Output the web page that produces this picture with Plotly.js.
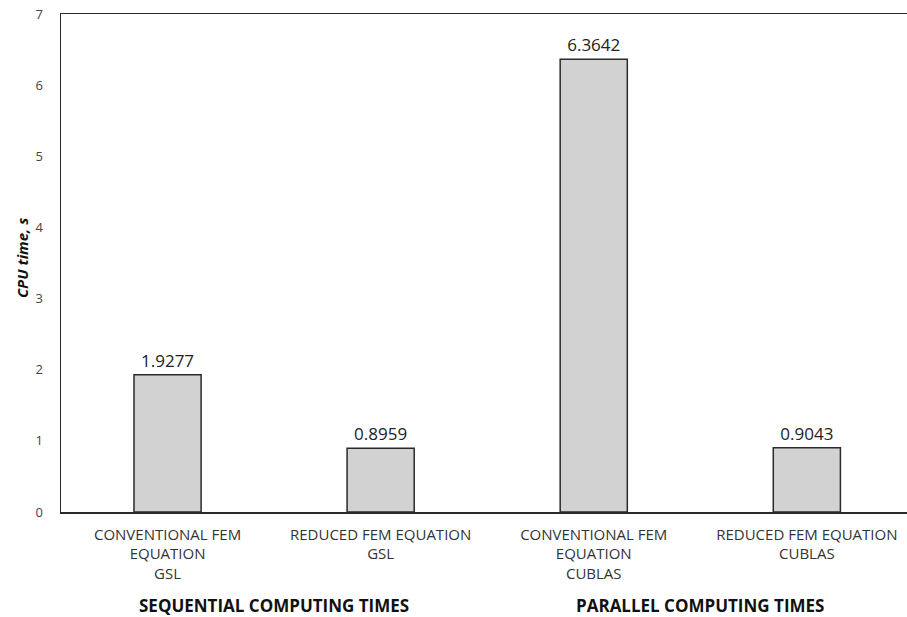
<!DOCTYPE html>
<html>
<head>
<meta charset="utf-8">
<script src="https://cdn.plot.ly/plotly-3.0.1.min.js"></script>
<style>html,body{margin:0;padding:0;background:#fff;}#chart{width:907px;height:617px;}</style>
</head>
<body>
<div id="chart"></div>
<script>
const categories = ["CONVENTIONAL FEM<br>EQUATION<br>GSL", "REDUCED FEM EQUATION<br>GSL", "CONVENTIONAL FEM<br>EQUATION<br>CUBLAS", "REDUCED FEM EQUATION<br>CUBLAS"];
const cpuTimes = [1.9277, 0.8959, 6.3642, 0.9043];
const valueLabels = ["1.9277", "0.8959", "6.3642", "0.9043"];
const groupLabels = ["SEQUENTIAL COMPUTING TIMES", "PARALLEL COMPUTING TIMES"];
const groupCenters = [0.5, 2.5];
const yTicks = [0, 1, 2, 3, 4, 5, 6, 7];

const idx = categories.map((_, i) => i);
const font = "Open Sans, Noto Sans, sans-serif";

const trace = {
  type: "bar",
  x: idx,
  y: cpuTimes,
  text: valueLabels,
  texttemplate: "%{text}",
  textposition: "outside",
  cliponaxis: false,
  textfont: {family: font, size: 17, color: "#222"},
  width: 0.315,
  marker: {color: "#d2d2d2", line: {color: "#2a2a2a", width: 1.5}},
  hoverinfo: "skip"
};

const annotations = groupLabels.map((t, i) => ({
  text: "<b>" + t + "</b>", x: groupCenters[i], xref: "x",
  y: (512 - 605) / 498, yref: "paper", yanchor: "middle",
  showarrow: false, font: {family: font, size: 17, color: "#111"}
}));
annotations.push({
  text: "<b><i>CPU time, s</i></b>", textangle: -90, xref: "paper", x: -0.046, xanchor: "center",
  yref: "paper", y: (512 - 258) / 498, yanchor: "middle", showarrow: false,
  font: {family: font, size: 15, color: "#111"}
});

const layout = {
  width: 907, height: 617,
  margin: {l: 61, r: 0, t: 14, b: 105},
  paper_bgcolor: "#fff", plot_bgcolor: "#fff",
  showlegend: false,
  xaxis: {
    range: [-0.5, 3.47],
    tickvals: idx, ticktext: categories,
    tickfont: {family: font, size: 15, color: "#333"},
    ticks: "", showgrid: false, zeroline: false,
    showline: true, mirror: true, linecolor: "#2a2a2a", linewidth: 1.5,
    ticklabelstandoff: 8
  },
  yaxis: {
    range: [0, 7], tickvals: yTicks,
    tickfont: {family: font, size: 13, color: "#444"},
    ticks: "", showgrid: false, zeroline: false,
    showline: true, linecolor: "#2a2a2a", linewidth: 1.5,
    ticklabelstandoff: 14
  },
  annotations: annotations
};

Plotly.newPlot("chart", [trace], layout, {staticPlot: true});
</script>
</body>
</html>
